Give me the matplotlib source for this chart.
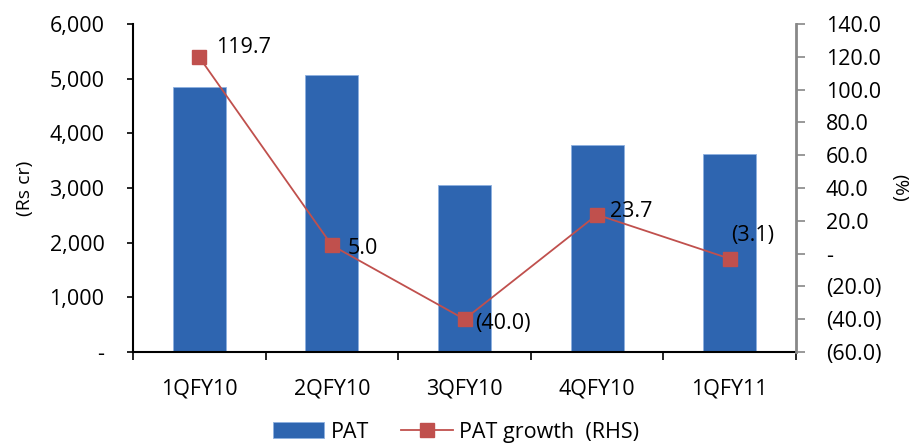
import matplotlib.pyplot as plt
import numpy as np
from matplotlib.ticker import FuncFormatter

quarters = ['1QFY10', '2QFY10', '3QFY10', '4QFY10', '1QFY11']
pat = [4840, 5060, 3050, 3780, 3630]
pat_growth = [119.7, 5.0, -40.0, 23.7, -3.1]

plt.rcParams['font.family'] = ['Open Sans', 'DejaVu Sans']
plt.rcParams['font.size'] = 15.5

bar_col = '#2E65B0'
line_col = '#C0504D'


def fmt_left(v, pos):
    if v == 0:
        return '-'
    return f'{v:,.0f}'


def fmt_right(v, pos):
    if abs(v) < 1e-9:
        return '-'
    if v < 0:
        return f'({-v:.1f})'
    return f'{v:.1f}'


fig = plt.figure(figsize=(9.12, 4.48), dpi=100)
ax = fig.add_axes([133 / 912, 1 - 352 / 448, 663 / 912, 328 / 448])
x = np.arange(len(quarters))
ax.bar(x, pat, width=0.4, color=bar_col, edgecolor='#8DB0E0', linewidth=0.6, label='PAT')
ax.set_xlim(-0.5, len(quarters) - 0.5)
ax.set_ylim(0, 6000)
ax.set_yticks(np.arange(0, 6001, 1000))
ax.yaxis.set_major_formatter(FuncFormatter(fmt_left))
ax.set_xticks(x)
ax.set_xticklabels(quarters)
ax.set_xticks(np.arange(-0.5, len(quarters), 1), minor=True)
ax.tick_params(axis='x', which='major', length=0, pad=19)
ax.tick_params(axis='x', which='minor', length=6, width=1.2, direction='out')
ax.tick_params(axis='y', length=4.5, width=1.2, direction='out', pad=16)
ax.set_ylabel('(Rs cr)', fontsize=14)
ax.yaxis.set_label_coords(-0.150, 0.5)
for s in ['top', 'right']:
    ax.spines[s].set_visible(False)
ax.spines['left'].set_linewidth(1.5)
ax.spines['bottom'].set_linewidth(1.5)

ax2 = ax.twinx()
ax2.plot(x, pat_growth, color=line_col, linewidth=1.3, marker='s', markersize=10,
         markerfacecolor=line_col, markeredgecolor=line_col, label='PAT growth  (RHS)')
ax2.set_ylim(-60, 140)
ax2.set_yticks(np.arange(-60, 141, 20))
ax2.yaxis.set_major_formatter(FuncFormatter(fmt_right))
ax2.tick_params(axis='y', length=6.5, width=1.2, direction='out', color='#888888', pad=15)
for s in ['top', 'left', 'bottom']:
    ax2.spines[s].set_visible(False)
ax2.spines['right'].set_color('#888888')
ax2.spines['right'].set_linewidth(2)
ax2.set_ylabel('(%)', fontsize=14, rotation=270)
ax2.yaxis.set_label_coords(1.170, 0.5)

# growth value labels, nudged per point
offsets = [(12, 7), (11, -2), (8, -3), (9, 2), (1, 17)]
for xi, v, (dx, dy) in zip(x, pat_growth, offsets):
    txt = f'({-v:.1f})' if v < 0 else f'{v:.1f}'
    ax2.annotate(txt, (xi, v), xytext=(dx, dy), textcoords='offset points',
                 ha='left', va='center', fontsize=15.5)

h1, l1 = ax.get_legend_handles_labels()
h2, l2 = ax2.get_legend_handles_labels()
fig.legend(h1 + h2, l1 + l2, loc='center', bbox_to_anchor=(0.5, 1 - 432 / 448),
           ncol=2, frameon=False, fontsize=15.5, handlelength=2.4, handletextpad=0.3,
           columnspacing=1.5, bbox_transform=fig.transFigure)

fig.savefig('out.png', dpi=100)
